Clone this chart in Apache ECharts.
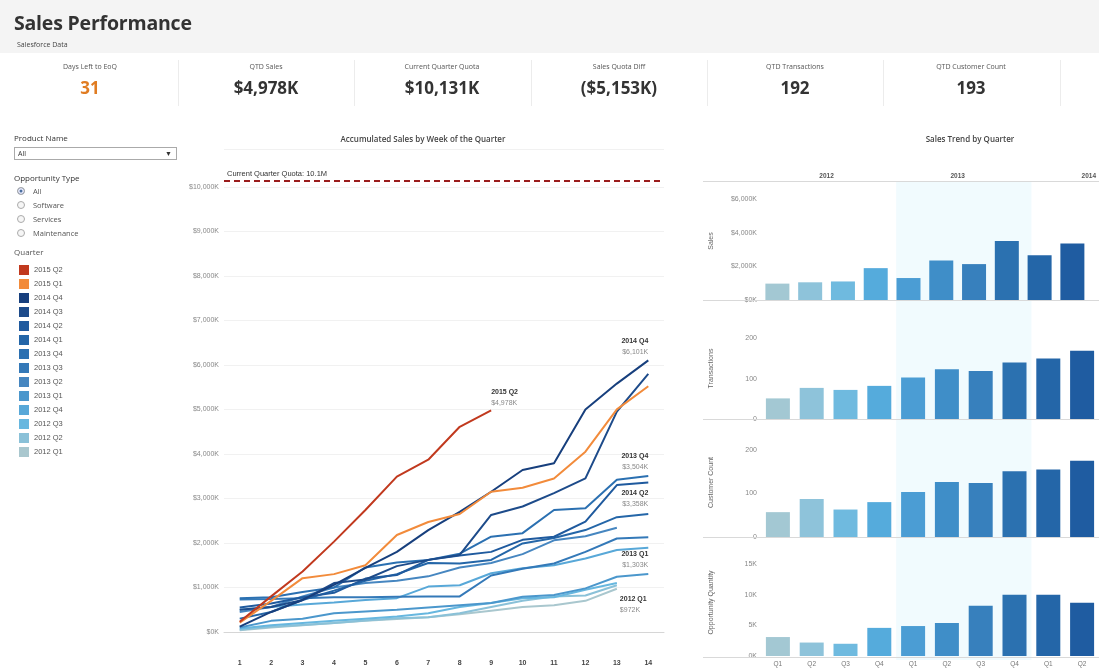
<!DOCTYPE html>
<html>
<head>
<meta charset="utf-8">
<script src="https://cdn.jsdelivr.net/npm/echarts@6/dist/echarts.min.js"></script>
<style>
  body { margin: 0; width: 1099px; height: 668px; overflow: hidden; background: #fff;
         font-family: "Open Sans", Lato, sans-serif; color: #333; position: relative; }
  #chart-container { position: absolute; left: 0; top: 0; width: 1099px; height: 668px; }
  .abs { position: absolute; white-space: nowrap; }
  .hdr { left: 0; top: 0; width: 1099px; height: 53px; background: #f4f4f4; }
  .title { left: 14px; top: 9px; font-size: 19.5px; font-weight: 700; color: #333; letter-spacing: -0.2px; }
  .sub { left: 17px; top: 40px; font-size: 7px; color: #444; }
  .kpi { top: 58px; width: 176px; text-align: center; }
  .kpi .lbl { font-size: 7px; color: #555; margin-top: 4px; }
  .kpi .val { font-size: 17px; font-weight: 700; color: #333; margin-top: 5px; }
  .sep { top: 60px; width: 1px; height: 46px; background: #ececec; }
  .ctitle { top: 133px; font-size: 8px; font-weight: 600; color: #444; transform: translateX(-50%); }
  .flt { left: 14px; font-size: 8px; color: #333; }
  .dd { left: 14px; top: 147px; width: 158px; height: 11px; border: 1px solid #aaa; font-size: 7px; line-height: 11px; padding-left: 3px; box-sizing: content-box; }
  .dd span { position: absolute; right: 4px; top: 0; font-size: 7px; }
  .radio { left: 17px; font-size: 7.5px; color: #555; }
  .radio i { display: inline-block; width: 6px; height: 6px; border: 1px solid #aaa; border-radius: 50%; margin-right: 8px; vertical-align: -1px; background: #f6f6f6; }
  .radio i.on { background: #4a6fa0; box-shadow: inset 0 0 0 1.5px #eef; }
</style>
</head>
<body>
<div id="chart-container"></div>

<div class="abs hdr"></div>
<div class="abs title">Sales Performance</div>
<div class="abs sub">Salesforce Data</div>

<div class="abs kpi" style="left:2px"><div class="lbl">Days Left to EoQ</div><div class="val" style="color:#e07c22">31</div></div>
<div class="abs kpi" style="left:178px"><div class="lbl">QTD Sales</div><div class="val">$4,978K</div></div>
<div class="abs kpi" style="left:354px"><div class="lbl">Current Quarter Quota</div><div class="val">$10,131K</div></div>
<div class="abs kpi" style="left:531px"><div class="lbl">Sales Quota Diff</div><div class="val">($5,153K)</div></div>
<div class="abs kpi" style="left:707px"><div class="lbl">QTD Transactions</div><div class="val">192</div></div>
<div class="abs kpi" style="left:883px"><div class="lbl">QTD Customer Count</div><div class="val">193</div></div>
<div class="abs sep" style="left:178px"></div>
<div class="abs sep" style="left:354px"></div>
<div class="abs sep" style="left:531px"></div>
<div class="abs sep" style="left:707px"></div>
<div class="abs sep" style="left:883px"></div>
<div class="abs sep" style="left:1060px"></div>

<div class="abs ctitle" style="left:423px">Accumulated Sales by Week of the Quarter</div>
<div class="abs ctitle" style="left:970px">Sales Trend by Quarter</div>

<div class="abs flt" style="top:132px">Product Name</div>
<div class="abs dd">All<span>&#9660;</span></div>
<div class="abs flt" style="top:172px">Opportunity Type</div>
<div class="abs radio" style="top:186px"><i class="on"></i>All</div>
<div class="abs radio" style="top:200px"><i></i>Software</div>
<div class="abs radio" style="top:214px"><i></i>Services</div>
<div class="abs radio" style="top:228px"><i></i>Maintenance</div>
<div class="abs flt" style="top:246px; color:#555">Quarter</div>

<script>
// week of quarter
const weeks = ['1', '2', '3', '4', '5', '6', '7', '8', '9', '10', '11', '12', '13', '14'];

// accumulated sales ($K) per week, one list per quarter
const q2015Q2 = [230, 800, 1360, 2030, 2740, 3490, 3870, 4610, 4978];
const q2015Q1 = [210, 700, 1210, 1300, 1500, 2180, 2470, 2650, 3150, 3240, 3450, 4050, 5000, 5520];
const q2014Q4 = [120, 450, 720, 1060, 1440, 1800, 2290, 2700, 3150, 3640, 3790, 5000, 5580, 6101];
const q2014Q3 = [500, 560, 720, 1100, 1180, 1480, 1620, 1730, 2630, 2820, 3120, 3450, 4950, 5800];
const q2014Q2 = [550, 640, 780, 880, 1200, 1280, 1620, 1720, 1800, 2070, 2140, 2480, 3300, 3358];
const q2014Q1 = [300, 450, 720, 930, 1150, 1300, 1550, 1540, 1620, 1990, 2110, 2290, 2580, 2650];
const q2013Q4 = [760, 780, 900, 1000, 1450, 1560, 1620, 1760, 2140, 2220, 2740, 2780, 3420, 3504];
const q2013Q3 = [730, 740, 760, 780, 780, 790, 800, 800, 1270, 1420, 1540, 1800, 2100, 2130];
const q2013Q2 = [450, 560, 800, 1000, 1100, 1150, 1250, 1450, 1550, 1750, 2060, 2150, 2340];
const q2013Q1 = [100, 250, 300, 420, 460, 500, 550, 600, 650, 790, 830, 980, 1240, 1303];
const q2012Q4 = [500, 560, 620, 660, 720, 760, 1020, 1050, 1320, 1430, 1500, 1650, 1840, 1890];
const q2012Q3 = [80, 150, 200, 250, 300, 350, 420, 560, 650, 760, 780, 950, 1100];
const q2012Q2 = [50, 120, 160, 200, 260, 310, 330, 420, 560, 700, 800, 820, 1050];
const q2012Q1 = [40, 100, 150, 200, 250, 290, 330, 400, 480, 560, 600, 700, 972];

const lineQuarters = ['2015 Q2', '2015 Q1', '2014 Q4', '2014 Q3', '2014 Q2', '2014 Q1', '2013 Q4',
  '2013 Q3', '2013 Q2', '2013 Q1', '2012 Q4', '2012 Q3', '2012 Q2', '2012 Q1'];
const lineValues = [q2015Q2, q2015Q1, q2014Q4, q2014Q3, q2014Q2, q2014Q1, q2013Q4,
  q2013Q3, q2013Q2, q2013Q1, q2012Q4, q2012Q3, q2012Q2, q2012Q1];
const quotaValue = 10131;

// quarterly trend (the quarters in view)
const barQuarters = ['2012 Q1', '2012 Q2', '2012 Q3', '2012 Q4', '2013 Q1', '2013 Q2', '2013 Q3', '2013 Q4',
  '2014 Q1', '2014 Q2'];
const years = ['2012', '2013', '2014'];
const salesByQuarter = [972, 1050, 1100, 1890, 1303, 2340, 2130, 3504, 2650, 3358];
const transactionsByQuarter = [51, 77, 72, 82, 103, 123, 119, 140, 150, 169];
const customersByQuarter = [57, 87, 63, 80, 103, 126, 124, 151, 155, 175];
const opportunitiesByQuarter = [3100, 2200, 2000, 4600, 4900, 5400, 8200, 10000, 10000, 8700];

// colours
const lineColors = ['#c1391e', '#f28b3b', '#173f7d', '#1d4b8a', '#1f5a9e', '#2466a8', '#2b70b1',
  '#3479b8', '#4686c0', '#4b97cc', '#58a8d8', '#67b7df', '#8ac1d8', '#a9c7ce'];
const barColors = ['#a3c8d3', '#8ec3da', '#6fbadf', '#55abdc', '#4b9dd4', '#3f8ec8', '#3780bd',
  '#2b71b0', '#2466a8', '#1f5ca1'];

const endLabels = {
  '2015 Q2': { position: 'top', align: 'left', distance: 2 },
  '2014 Q4': { position: 'top', align: 'right', distance: 3 },
  '2013 Q4': { position: 'top', align: 'right', distance: 3 },
  '2014 Q2': { position: 'bottom', align: 'right', distance: 5 },
  '2013 Q1': { position: 'top', align: 'right', distance: 3 },
  '2012 Q1': { position: 'bottom', align: 'left', distance: 5, offset: [3, 0] }
};

const fmtK = (v) => '$' + v.toLocaleString('en-US') + 'K';

const dom = document.getElementById('chart-container');
const myChart = echarts.init(dom, null, { renderer: 'canvas' });

// layout of the right hand panels
const barLeft = 761, barGridW = 338, catW = barGridW / barQuarters.length;
const panels = [
  { name: 'Sales', data: salesByQuarter, top: 182, height: 118, max: 7000, interval: 2000, fmt: fmtK },
  { name: 'Transactions', data: transactionsByQuarter, top: 318, height: 101, max: 250, interval: 100, fmt: (v) => v },
  { name: 'Customer Count', data: customersByQuarter, top: 428, height: 109, max: 250, interval: 100, fmt: (v) => v },
  { name: 'Opportunity Quantity', data: opportunitiesByQuarter, top: 549, height: 108, max: 17500, interval: 5000, fmt: (v) => (v / 1000) + 'K' }
];

const grids = [{ left: 224, width: 440, top: 149, bottom: 36 }];
const xAxes = [{
  gridIndex: 0, type: 'category', data: weeks, offset: 24,
  axisLine: { lineStyle: { color: '#d6d6d6' } }, axisTick: { show: false },
  axisLabel: { fontSize: 7, fontWeight: 'bold', color: '#444', margin: 4 }
}];
const yAxes = [{
  gridIndex: 0, type: 'value', min: 0, max: 10850, interval: 1000,
  axisLine: { show: false }, axisTick: { show: false },
  axisLabel: { fontSize: 7, color: '#888', margin: 5, showMaxLabel: false, formatter: fmtK },
  splitLine: { lineStyle: { color: '#f1f1f1' } }
}];
const series = [];

// accumulated lines, oldest drawn first
for (let i = lineQuarters.length - 1; i >= 0; i--) {
  const name = lineQuarters[i];
  const vals = lineValues[i];
  const spec = endLabels[name];
  const data = vals.map((v, j) => {
    if (j === vals.length - 1 && spec) {
      return {
        value: v,
        label: {
          show: true, position: spec.position, align: spec.align, distance: spec.distance,
          offset: spec.offset || [0, 0],
          formatter: () => '{n|' + name + '}\n{v|' + fmtK(v) + '}',
          rich: {
            n: { fontSize: 7, fontWeight: 'bold', color: '#333', lineHeight: 11 },
            v: { fontSize: 7, color: '#888', lineHeight: 11 }
          }
        }
      };
    }
    return v;
  });
  const s = {
    name: name, type: 'line', xAxisIndex: 0, yAxisIndex: 0, data: data,
    symbol: 'circle', symbolSize: 0, showSymbol: true,
    lineStyle: { width: 2, color: lineColors[i] }, itemStyle: { color: lineColors[i] },
    emphasis: { disabled: true }, z: 3
  };
  if (name === '2015 Q2') {
    s.markLine = {
      silent: true, symbol: 'none',
      lineStyle: { color: '#9b1c1c', type: [6, 4], width: 2 },
      label: { position: 'insideStartTop', fontSize: 7.5, color: '#333', distance: 3,
               formatter: 'Current Quarter Quota: ' + (quotaValue / 1000).toFixed(1) + 'M' },
      data: [{ yAxis: quotaValue }]
    };
  }
  series.push(s);
}

// bar panels
panels.forEach((p, k) => {
  const gi = k + 1;
  grids.push({ left: barLeft, width: barGridW, top: p.top, height: p.height });
  xAxes.push({
    gridIndex: gi, type: 'category', data: barQuarters,
    axisLine: { show: false }, axisTick: { show: false },
    axisLabel: { show: k === panels.length - 1, fontSize: 6.5, color: '#777', margin: 5,
                 formatter: (v) => v.split(' ')[1] }
  });
  yAxes.push({
    gridIndex: gi, type: 'value', min: 0, max: p.max, interval: p.interval,
    name: p.name, nameLocation: 'middle', nameGap: 46, nameRotate: 90,
    nameTextStyle: { fontSize: 7, color: '#666' },
    axisLine: { show: false }, axisTick: { show: false }, splitLine: { show: false },
    axisLabel: { fontSize: 7, color: '#888', margin: 4, showMaxLabel: false, formatter: p.fmt }
  });
  series.push({
    name: p.name, type: 'bar', xAxisIndex: gi, yAxisIndex: gi, barWidth: 24,
    data: p.data.map((v, j) => ({ value: v, itemStyle: { color: barColors[j] } })),
    emphasis: { disabled: true }, z: 3
  });
});

// year header on top of the sales panel: one year per four quarters
xAxes.push({
  gridIndex: 1, type: 'value', position: 'top', min: 0, max: barQuarters.length, interval: 2,
  axisLine: { show: false }, axisTick: { show: false }, splitLine: { show: false },
  axisLabel: {
    fontSize: 6.5, fontWeight: 'bold', color: '#555', margin: 2, showMaxLabel: true,
    alignMaxLabel: 'center',
    formatter: (v) => (v % 4 === 2 ? years[(v - 2) / 4] : '')
  }
});

// panel separators and the highlighted year band
const rules = [181].concat(panels.map((p) => p.top + p.height));
const graphics = [{
  type: 'rect', z: 0, silent: true,
  shape: { x: barLeft + catW * 4, y: 182, width: catW * 4, height: 478 },
  style: { fill: '#f1fbfe' }
}].concat(rules.map((y) => ({
  type: 'line', z: 1, silent: true,
  shape: { x1: 703, y1: y + 0.5, x2: 1099, y2: y + 0.5 },
  style: { stroke: '#d9d9d9', lineWidth: 1 }
})));

const option = {
  animation: false,
  legend: {
    data: lineQuarters, orient: 'vertical', left: 14, top: 260,
    icon: 'rect', itemWidth: 10, itemHeight: 10, itemGap: 4,
    textStyle: { fontSize: 7.5, color: '#555', lineHeight: 10 }
  },
  grid: grids,
  xAxis: xAxes,
  yAxis: yAxes,
  graphic: graphics,
  series: series
};

myChart.setOption(option);
window.addEventListener('resize', myChart.resize);
</script>
</body>
</html>
